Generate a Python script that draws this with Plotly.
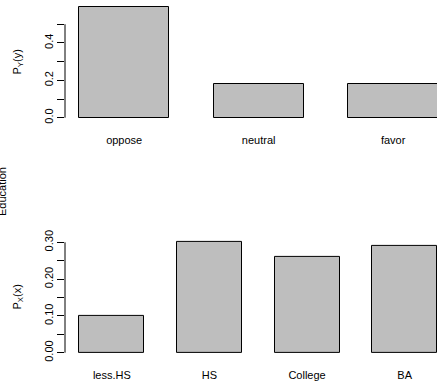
import plotly.graph_objects as go

# data
y_categories = ["oppose", "neutral", "favor"]
y_probs = [0.59, 0.18, 0.18]
x_categories = ["less.HS", "HS", "College", "BA"]
x_probs = [0.10, 0.30, 0.26, 0.29]

top_tickvals = [0.0, 0.1, 0.2, 0.3, 0.4, 0.5]
top_ticktext = ["0.0", " ", "0.2", " ", "0.4", " "]
bot_tickvals = [0.00, 0.05, 0.10, 0.15, 0.20, 0.25, 0.30]
bot_ticktext = ["0.00", " ", "0.10", " ", "0.20", " ", "0.30"]

W, H = 437, 381
FONT = "Liberation Sans, Arial, sans-serif"
FILL = "#BEBEBE"

def fy(px):
    return 1 - px / H

fig = go.Figure()
fig.add_trace(go.Bar(x=y_categories, y=y_probs, width=2/3, xaxis="x", yaxis="y",
                     marker=dict(color=FILL, line=dict(color="black", width=1)),
                     showlegend=False, hoverinfo="skip"))
fig.add_trace(go.Bar(x=x_categories, y=x_probs, width=2/3, xaxis="x2", yaxis="y2",
                     marker=dict(color=FILL, line=dict(color="black", width=1)),
                     showlegend=False, hoverinfo="skip"))

xdom = [65 / W, 1]
common_x = dict(showgrid=False, zeroline=False, showline=False, ticks="",
                automargin=False,
                tickfont=dict(family=FONT, size=11, color="black"), fixedrange=True)
common_y = dict(showgrid=False, zeroline=False, showline=False, ticks="outside",
                automargin=False,
                ticklen=7, tickwidth=1, tickcolor="black", tickangle=-90,
                tickfont=dict(family=FONT, size=11, color="black"), fixedrange=True)

fig.update_layout(
    width=W, height=H, margin=dict(l=0, r=0, t=0, b=0, autoexpand=False),
    paper_bgcolor="white", plot_bgcolor="white",
    font=dict(family=FONT, size=11, color="black"),
    bargap=0,
    xaxis=dict(domain=xdom, anchor="y", range=[-0.44, 2.326], type="category",
               ticklabelstandoff=10, **common_x),
    yaxis=dict(domain=[fy(122.1), fy(3.0)], anchor="x", range=[-0.0236, 0.6136],
               tickvals=top_tickvals, ticktext=top_ticktext, **common_y),
    xaxis2=dict(domain=xdom, anchor="y2", range=[-0.48, 3.331], type="category",
                ticklabelstandoff=10, **common_x),
    yaxis2=dict(domain=[fy(357.1), fy(237.9)], anchor="x2", range=[-0.012, 0.312],
                tickvals=bot_tickvals, ticktext=bot_ticktext, **common_y),
)

# axis lines spanning only the tick range (R style)
fig.add_shape(type="line", xref="x domain", yref="y", x0=0, x1=0,
              y0=top_tickvals[0], y1=top_tickvals[-1], line=dict(color="black", width=1))
fig.add_shape(type="line", xref="x2 domain", yref="y2", x0=0, x1=0,
              y0=bot_tickvals[0], y1=bot_tickvals[-1], line=dict(color="black", width=1))

# axis titles
fig.add_annotation(text="P<sub>Y</sub>(y)", xref="paper", yref="paper",
                   x=17 / W, y=fy(62.5), textangle=-90, showarrow=False,
                   xanchor="center", yanchor="middle", font=dict(family=FONT, size=11))
fig.add_annotation(text="P<sub>X</sub>(x)", xref="paper", yref="paper",
                   x=17 / W, y=fy(297.5), textangle=-90, showarrow=False,
                   xanchor="center", yanchor="middle", font=dict(family=FONT, size=11))
fig.add_annotation(text="Education", xref="paper", yref="paper",
                   x=2 / W, y=fy(192), textangle=-90, showarrow=False,
                   xanchor="center", yanchor="middle", font=dict(family=FONT, size=11))

fig.write_html("out.html")
